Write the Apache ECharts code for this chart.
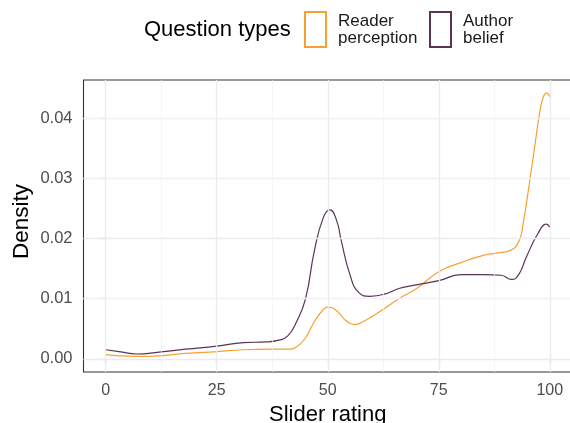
<!DOCTYPE html>
<html>
<head>
<meta charset="utf-8">
<script src="https://cdn.jsdelivr.net/npm/echarts@6/dist/echarts.min.js"></script>
<style>
html,body{margin:0;padding:0;background:#fff;}
#c{width:570px;height:423px;}
</style>
</head>
<body>
<div id="c"></div>
<script>
// ---- data ----
const readerX = [0, 3, 7, 12, 18, 25, 31, 37, 41, 43, 45, 47, 49, 50, 52, 54, 56, 58, 62, 66, 70, 75, 80, 85, 88, 91, 93, 94, 95.5, 96.6, 97.7, 98.5, 99.3, 100];
const readerY = [0.0007, 0.0005, 0.0004, 0.0005, 0.0009, 0.0012, 0.0015, 0.0016, 0.0016, 0.0020, 0.0035, 0.0062, 0.0082, 0.0086, 0.0080, 0.0064, 0.0057, 0.0062, 0.0080, 0.0100, 0.0117, 0.0145, 0.0160, 0.0172, 0.0176, 0.0180, 0.0195, 0.0225, 0.0297, 0.0353, 0.0409, 0.0435, 0.0442, 0.0436];
const authorX = [0, 3, 7, 12, 18, 25, 31, 36, 39, 41, 43, 45, 47, 49, 50.5, 52, 53, 55, 57, 59.5, 63, 66, 70, 75, 80, 85, 89, 91.4, 93, 94.7, 97.3, 99.2, 100];
const authorY = [0.0015, 0.0012, 0.0008, 0.0011, 0.0016, 0.0021, 0.0027, 0.0028, 0.0031, 0.0038, 0.0062, 0.0100, 0.0180, 0.0235, 0.0248, 0.0230, 0.0198, 0.0140, 0.0110, 0.0104, 0.0108, 0.0117, 0.0123, 0.0130, 0.0140, 0.0140, 0.0139, 0.0132, 0.0140, 0.0169, 0.0208, 0.0224, 0.0219];
const seriesNames = ['Reader perception', 'Author belief'];
const seriesColors = ['#F5A132', '#5B3356'];
const xTicks = [0, 25, 50, 75, 100];
const yTicks = [0, 0.01, 0.02, 0.03, 0.04];
const xMinor = [12.5, 37.5, 62.5, 87.5];
const yMinor = [0.005, 0.015, 0.025, 0.035, 0.045];
const xRange = [-5, 105];
const yRange = [-0.0022, 0.0464];

const FONT = "'Liberation Sans', Arial, Helvetica, sans-serif";
const pairs = (xs, ys) => xs.map((x, i) => [x, ys[i]]);

const chart = echarts.init(document.getElementById('c'), null, {renderer: 'canvas'});

const gridLines = [];
xTicks.forEach(v => gridLines.push({xAxis: v, lineStyle: {color: '#EBEBEB', width: 1.3, type: 'solid'}}));
yTicks.forEach(v => gridLines.push({yAxis: v, lineStyle: {color: '#EBEBEB', width: 1.3, type: 'solid'}}));
xMinor.forEach(v => gridLines.push({xAxis: v, lineStyle: {color: '#F2F2F2', width: 0.7, type: 'solid'}}));
yMinor.forEach(v => gridLines.push({yAxis: v, lineStyle: {color: '#F2F2F2', width: 0.7, type: 'solid'}}));

const legendCommon = {
  top: 11, orient: 'horizontal', itemWidth: 21, itemHeight: 35, icon: 'rect', padding: 0,
  formatter: n => n.replace(' ', '\n'),
  textStyle: {fontFamily: FONT, fontSize: 17, lineHeight: 17, color: '#1A1A1A', padding: [0, 0, 0, 7]},
  selectedMode: false
};

chart.setOption({
  animation: false,
  backgroundColor: '#ffffff',
  textStyle: {fontFamily: FONT},
  graphic: [
    {
      type: 'text', left: 144, top: 19,
      style: {text: 'Question types', fontFamily: FONT, fontSize: 22, fill: '#000000'}
    },
    {
      type: 'text', x: 21.5, y: 221.5, rotation: Math.PI / 2,
      style: {text: 'Density', fontFamily: FONT, fontSize: 22.5, fill: '#000000', align: 'center', verticalAlign: 'middle'}
    }
  ],
  legend: [
    Object.assign({left: 304, data: [seriesNames[0]]}, legendCommon),
    Object.assign({left: 429, data: [seriesNames[1]]}, legendCommon)
  ],
  grid: {left: 83.5, right: -2, top: 80, bottom: 51, show: true, borderColor: '#333333', borderWidth: 1.1, backgroundColor: '#ffffff', containLabel: false, outerBoundsMode: 'none'},
  xAxis: {
    type: 'value', min: xRange[0], max: xRange[1],
    name: 'Slider rating', nameLocation: 'middle', nameGap: 27,
    nameTextStyle: {fontFamily: FONT, fontSize: 22, color: '#000000'},
    axisLine: {show: false},
    axisTick: {show: true, length: 4.5, lineStyle: {color: '#333333', width: 1.1}, customValues: xTicks},
    axisLabel: {customValues: xTicks, fontFamily: FONT, fontSize: 16, color: '#4D4D4D', margin: 11, formatter: v => String(v)},
    splitLine: {show: false}, minorSplitLine: {show: false}
  },
  yAxis: {
    type: 'value', min: yRange[0], max: yRange[1],
    axisLine: {show: false},
    axisTick: {show: true, length: 4.5, lineStyle: {color: '#333333', width: 1.1}, customValues: yTicks},
    axisLabel: {customValues: yTicks, fontFamily: FONT, fontSize: 16.5, color: '#4D4D4D', margin: 11, formatter: v => v.toFixed(2)},
    splitLine: {show: false}, minorSplitLine: {show: false}
  },
  series: [
    {
      name: '__grid', type: 'line', data: [], silent: true, z: 1,
      markLine: {silent: true, symbol: ['none', 'none'], label: {show: false}, animation: false, data: gridLines}
    },
    {
      name: seriesNames[0], type: 'line', data: pairs(readerX, readerY), smooth: true, showSymbol: false, z: 3,
      color: seriesColors[0], lineStyle: {color: seriesColors[0], width: 1.2},
      itemStyle: {color: 'transparent', borderColor: seriesColors[0], borderWidth: 1.1}
    },
    {
      name: seriesNames[1], type: 'line', data: pairs(authorX, authorY), smooth: true, showSymbol: false, z: 3,
      color: seriesColors[1], lineStyle: {color: seriesColors[1], width: 1.2},
      itemStyle: {color: 'transparent', borderColor: seriesColors[1], borderWidth: 1.1}
    }
  ]
});
</script>
</body>
</html>
